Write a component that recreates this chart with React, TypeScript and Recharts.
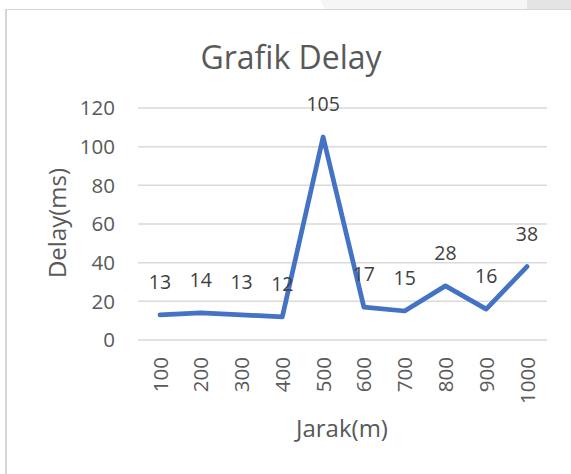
import React from 'react';
import { LineChart, Line, XAxis, YAxis, CartesianGrid } from 'recharts';

const categories = ['100', '200', '300', '400', '500', '600', '700', '800', '900', '1000'];
const delayValues = [13, 14, 13, 12, 105, 17, 15, 28, 16, 38];
const yTicks = [0, 20, 40, 60, 80, 100, 120];
const chartTitle = 'Grafik Delay';
const xTitle = 'Jarak(m)';
const yTitle = 'Delay(ms)';

const data = categories.map((c, i) => ({ jarak: c, delay: delayValues[i] }));

const FONT = '"Open Sans", sans-serif';
const TEXT = '#595959';

function XTick(props: any) {
  const { x, y, payload } = props;
  return (
    <text
      transform={`translate(${x + 7.5},${y + 17}) rotate(-90)`}
      textAnchor="end"
      fill={TEXT}
      fontSize={20.5}
      fontFamily={FONT}
    >
      {payload.value}
    </text>
  );
}

function renderLabel(p: any) {
  return (
    <text
      key={`lbl-${p.index}`}
      x={p.x}
      y={p.y - 26}
      textAnchor="middle"
      fill="#404040"
      fontSize={19.5}
      fontFamily={FONT}
    >
      {p.value}
    </text>
  );
}

export default function App() {
  return (
    <div style={{ position: 'fixed', left: 0, top: 0, width: 571, height: 474, background: '#fff', overflow: 'hidden' }}>
      <div style={{ position: 'absolute', left: 0, top: 0, width: 571, height: 9, background: '#fff' }} />
      <div
        style={{
          position: 'absolute', left: 0, top: 0, width: 571, height: 9, background: '#f6f6f6',
          clipPath: 'polygon(320px 0, 527px 0, 527px 9px, 325px 9px)',
        }}
      />
      <div style={{ position: 'absolute', left: 527, top: 0, width: 44, height: 9, background: '#e4e4e4' }} />
      <div
        style={{
          position: 'absolute', left: 5, top: 9, width: 566, height: 465,
          borderLeft: '2px solid #d6d6d6', borderTop: '1.5px solid #d6d6d6', boxSizing: 'border-box',
        }}
      />
      <div style={{ position: 'absolute', left: 0, top: 0 }}>
        <LineChart width={571} height={474} data={data} margin={{ top: 108, right: 24, bottom: 0, left: 0 }}>
          <CartesianGrid vertical={false} stroke="#d9d9d9" strokeWidth={1.5} />
          <XAxis
            dataKey="jarak"
            axisLine={false}
            tickLine={false}
            tickSize={0}
            tickMargin={0}
            height={134}
            interval={0}
            padding={{ left: 22, right: 20 }}
            tick={<XTick />}
          />
          <YAxis
            domain={[0, 120]}
            ticks={yTicks}
            axisLine={false}
            tickLine={false}
            tickSize={0}
            tickMargin={23}
            width={138}
            tick={{ fill: TEXT, fontSize: 20.5, fontFamily: FONT }}
          />
          <Line
            type="linear"
            dataKey="delay"
            stroke="#4472C4"
            strokeWidth={4.75}
            strokeLinecap="round"
            strokeLinejoin="round"
            dot={false}
            isAnimationActive={false}
            label={renderLabel}
          />
        </LineChart>
      </div>
      <svg width={571} height={474} style={{ position: 'absolute', left: 0, top: 0, pointerEvents: 'none' }}>
        <text x={291} y={69} textAnchor="middle" fill={TEXT} fontSize={32} fontFamily={FONT}>
          {chartTitle}
        </text>
        <text x={342} y={437} textAnchor="middle" fill={TEXT} fontSize={24} fontFamily={FONT}>
          {xTitle}
        </text>
        <text transform="translate(66,223) rotate(-90)" textAnchor="middle" fill={TEXT} fontSize={24} fontFamily={FONT}>
          {yTitle}
        </text>
      </svg>
    </div>
  );
}
